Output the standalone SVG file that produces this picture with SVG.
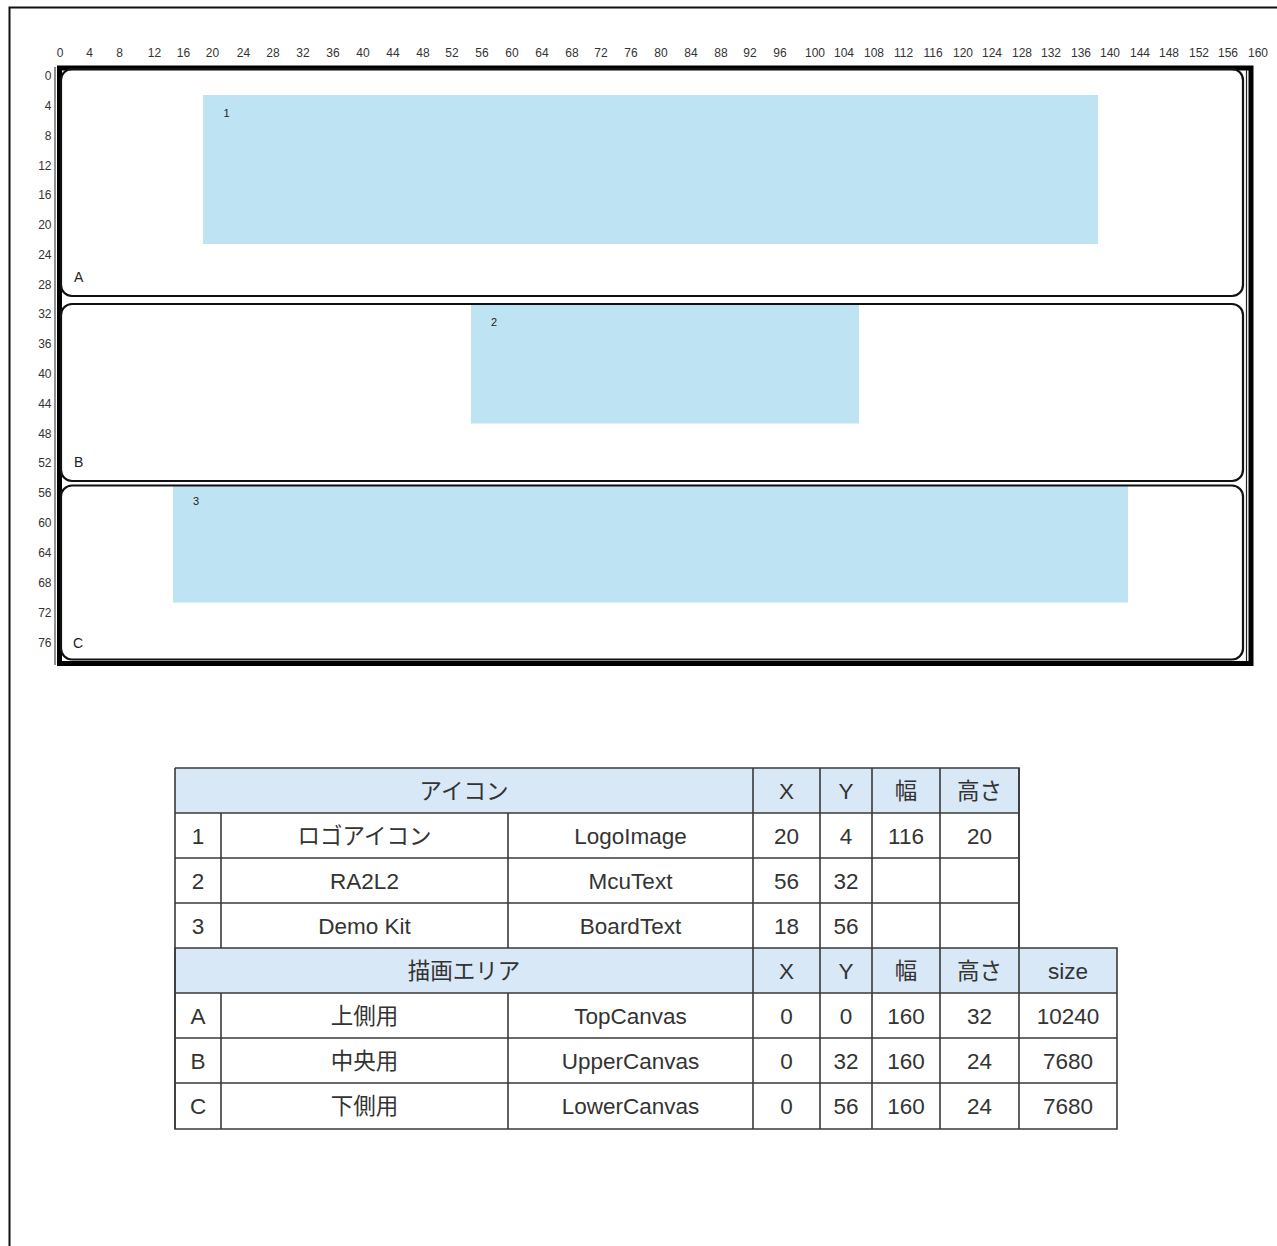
<svg xmlns="http://www.w3.org/2000/svg" width="1277" height="1246" viewBox="0 0 1277 1246">
<style>
.rl{font-family:"Liberation Sans",Arial,sans-serif;font-size:12px;fill:#333}
.rt{text-anchor:middle}
.rv{text-anchor:end}
.lbl{font-family:"Liberation Sans",Arial,sans-serif;font-size:14px;fill:#222}
.num{font-family:"Liberation Sans",Arial,sans-serif;font-size:11px;fill:#222}
.blue{fill:#bee4f3}
.box{fill:none;stroke:#111;stroke-width:2.2}
.tc{font-family:"Liberation Sans","Noto Sans CJK JP",sans-serif;font-size:22.5px;fill:#333;text-anchor:middle}
.hd{fill:#d9e8f6}
.gl{stroke:#3a3a3a;stroke-width:1.6;fill:none}
</style>
<rect x="0" y="0" width="1277" height="1246" fill="#fff"/>
<g id="page-frame"><path d="M9.5 1246 V7.5 H1277" fill="none" stroke="#111" stroke-width="2"/></g>

<g id="ruler-top" class="rl rt">
<text x="60" y="57">0</text><text x="89.5" y="57">4</text><text x="119.5" y="57">8</text><text x="154.5" y="57">12</text><text x="183.5" y="57">16</text><text x="212.5" y="57">20</text><text x="243.5" y="57">24</text><text x="273" y="57">28</text><text x="303" y="57">32</text><text x="333" y="57">36</text><text x="363" y="57">40</text><text x="393" y="57">44</text><text x="423" y="57">48</text><text x="452" y="57">52</text><text x="482" y="57">56</text><text x="512" y="57">60</text><text x="542" y="57">64</text><text x="572" y="57">68</text><text x="601" y="57">72</text><text x="631" y="57">76</text><text x="661" y="57">80</text><text x="691" y="57">84</text><text x="721" y="57">88</text><text x="750" y="57">92</text><text x="780" y="57">96</text><text x="815" y="57">100</text><text x="844" y="57">104</text><text x="874" y="57">108</text><text x="903.5" y="57">112</text><text x="933" y="57">116</text><text x="963" y="57">120</text><text x="992" y="57">124</text><text x="1022" y="57">128</text><text x="1051" y="57">132</text><text x="1081" y="57">136</text><text x="1110" y="57">140</text><text x="1140" y="57">144</text><text x="1169" y="57">148</text><text x="1199" y="57">152</text><text x="1228" y="57">156</text><text x="1258" y="57">160</text>
</g>
<g id="ruler-left" class="rl rv">
<text x="51.5" y="79.5">0</text><text x="51.5" y="109.5">4</text><text x="51.5" y="139.5">8</text><text x="51.5" y="169.5">12</text><text x="51.5" y="198.5">16</text><text x="51.5" y="228.5">20</text><text x="51.5" y="258.5">24</text><text x="51.5" y="288.5">28</text><text x="51.5" y="318">32</text><text x="51.5" y="348">36</text><text x="51.5" y="378">40</text><text x="51.5" y="408">44</text><text x="51.5" y="438">48</text><text x="51.5" y="467">52</text><text x="51.5" y="497">56</text><text x="51.5" y="526.5">60</text><text x="51.5" y="556.5">64</text><text x="51.5" y="586.5">68</text><text x="51.5" y="616.5">72</text><text x="51.5" y="646.5">76</text>
</g>

<g id="icon-1"><rect class="blue" x="203" y="95" width="895" height="149"/><text class="num" x="223.5" y="117">1</text></g>
<g id="icon-2"><rect class="blue" x="471" y="304" width="388" height="119.5"/><text class="num" x="491" y="326">2</text></g>
<g id="icon-3"><rect class="blue" x="173" y="485" width="955" height="117.5"/><text class="num" x="193" y="505">3</text></g>

<g id="canvas-frame">
<rect x="59.5" y="68" width="1191.5" height="595.5" fill="none" stroke="#000" stroke-width="5"/>
<line x1="55" y1="67" x2="55" y2="665" stroke="#222" stroke-width="1"/>
<line x1="1246.5" y1="70" x2="1246.5" y2="661" stroke="#222" stroke-width="1.2"/>
</g>
<g id="area-A"><rect class="box" x="61" y="69" width="1182" height="227" rx="11"/><text class="lbl" x="74" y="282">A</text></g>
<g id="area-B"><rect class="box" x="61" y="304" width="1182" height="177" rx="11"/><text class="lbl" x="74" y="467">B</text></g>
<g id="area-C"><rect class="box" x="61" y="485.5" width="1182" height="174" rx="11"/><text class="lbl" x="73" y="648">C</text></g>

<g id="table">
<rect class="hd" x="175" y="768" width="844" height="45"/>
<rect class="hd" x="175" y="948" width="942" height="45"/>
<g class="gl">
<path d="M175 768 H1019 V948 M175 813 H1019 M175 858 H1019 M175 903 H1019 M175 948 H1117 V1129 H175 Z M175 993 H1117 M175 1038 H1117 M175 1083 H1117"/>
<path d="M175 768 V1129 M221 813 V948 M221 993 V1129 M508 813 V948 M508 993 V1129 M753 768 V1129 M820 768 V1129 M872 768 V1129 M940 768 V1129 M1019 768 V1129"/>
</g>
<g class="tc">
<text x="464" y="798.5">アイコン</text><text x="786.5" y="798.5">X</text><text x="846" y="798.5">Y</text><text x="906" y="798.5">幅</text><text x="979.5" y="798.5">高さ</text>
<text x="198" y="843.5">1</text><text x="364.5" y="843.5">ロゴアイコン</text><text x="630.5" y="843.5">LogoImage</text><text x="786.5" y="843.5">20</text><text x="846" y="843.5">4</text><text x="906" y="843.5">116</text><text x="979.5" y="843.5">20</text>
<text x="198" y="888.5">2</text><text x="364.5" y="888.5">RA2L2</text><text x="630.5" y="888.5">McuText</text><text x="786.5" y="888.5">56</text><text x="846" y="888.5">32</text>
<text x="198" y="933.5">3</text><text x="364.5" y="933.5">Demo Kit</text><text x="630.5" y="933.5">BoardText</text><text x="786.5" y="933.5">18</text><text x="846" y="933.5">56</text>
<text x="464" y="978.5">描画エリア</text><text x="786.5" y="978.5">X</text><text x="846" y="978.5">Y</text><text x="906" y="978.5">幅</text><text x="979.5" y="978.5">高さ</text><text x="1068" y="978.5">size</text>
<text x="198" y="1023.5">A</text><text x="364.5" y="1023.5">上側用</text><text x="630.5" y="1023.5">TopCanvas</text><text x="786.5" y="1023.5">0</text><text x="846" y="1023.5">0</text><text x="906" y="1023.5">160</text><text x="979.5" y="1023.5">32</text><text x="1068" y="1023.5">10240</text>
<text x="198" y="1068.5">B</text><text x="364.5" y="1068.5">中央用</text><text x="630.5" y="1068.5">UpperCanvas</text><text x="786.5" y="1068.5">0</text><text x="846" y="1068.5">32</text><text x="906" y="1068.5">160</text><text x="979.5" y="1068.5">24</text><text x="1068" y="1068.5">7680</text>
<text x="198" y="1114">C</text><text x="364.5" y="1114">下側用</text><text x="630.5" y="1114">LowerCanvas</text><text x="786.5" y="1114">0</text><text x="846" y="1114">56</text><text x="906" y="1114">160</text><text x="979.5" y="1114">24</text><text x="1068" y="1114">7680</text>
</g>
</g>
</svg>
